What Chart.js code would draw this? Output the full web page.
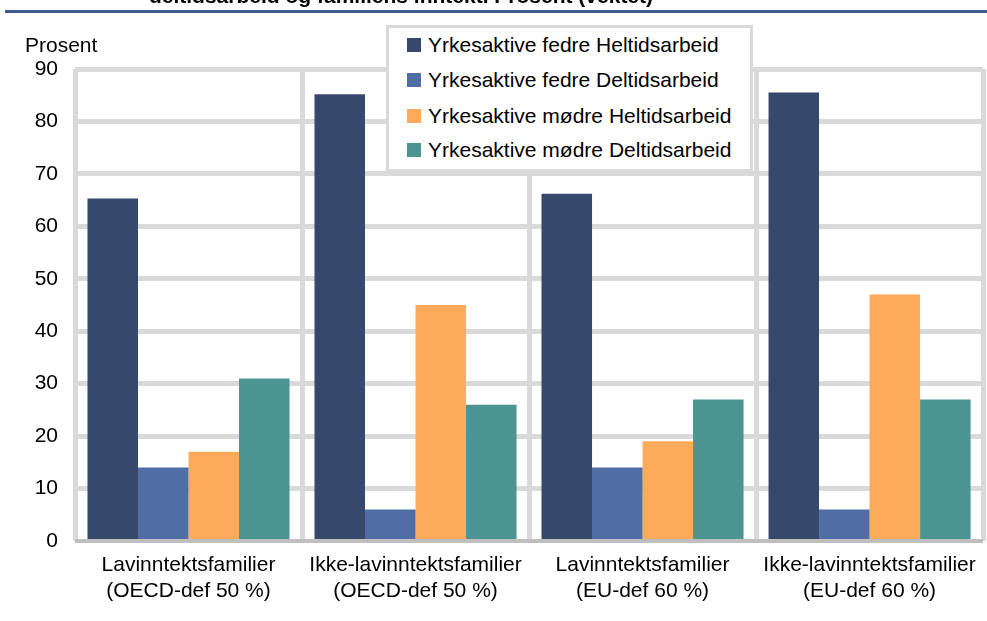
<!DOCTYPE html>
<html><head><meta charset="utf-8">
<script src="https://cdn.jsdelivr.net/npm/chart.js@4"></script>
<style>
html,body{margin:0;padding:0;background:#fff;}
#wrap{position:relative;width:987px;height:621px;overflow:hidden;font-family:"Liberation Sans",Arial,sans-serif;color:#000;}
canvas{position:absolute;left:0;top:0;}
#title{position:absolute;top:-15px;left:0;width:802px;text-align:center;font-weight:bold;font-size:21px;line-height:21px;white-space:nowrap;}
#rule{position:absolute;left:5px;top:10px;width:982px;height:3px;background:#3f5b8c;}
#ylab{position:absolute;left:25px;top:33px;font-size:21px;line-height:24px;}
#legend{position:absolute;left:386px;top:25px;width:361px;height:141px;border:3px solid #d9d9d9;background:#fff;}
.item{position:absolute;left:18px;font-size:21px;line-height:24px;height:24px;white-space:nowrap;display:flex;align-items:center;}
.sw{display:inline-block;width:14px;height:14px;margin-right:7px;}
</style>
</head><body>
<div id="wrap">
<canvas id="c" width="987" height="621"></canvas>
<div id="title">deltidsarbeid og familiens inntekt. Prosent (vektet)</div>
<div id="rule"></div>
<div id="ylab">Prosent</div>
<div id="legend"></div>
</div>
<script>
const categories = [
  ["Lavinntektsfamilier", "(OECD-def 50 %)"],
  ["Ikke-lavinntektsfamilier", "(OECD-def 50 %)"],
  ["Lavinntektsfamilier", "(EU-def 60 %)"],
  ["Ikke-lavinntektsfamilier", "(EU-def 60 %)"]
];
const seriesNames = [
  "Yrkesaktive fedre Heltidsarbeid",
  "Yrkesaktive fedre Deltidsarbeid",
  "Yrkesaktive mødre Heltidsarbeid",
  "Yrkesaktive mødre Deltidsarbeid"
];
const fedreHeltid = [65.3, 85.2, 66.2, 85.5];
const fedreDeltid = [14, 6, 14, 6];
const modreHeltid = [17, 45, 19, 47];
const modreDeltid = [31, 26, 27, 27];
const yMin = 0, yMax = 90, yStep = 10;
const colors = ["#36486c", "#506ea5", "#fdaa5a", "#4b9491"];

const values = [fedreHeltid, fedreDeltid, modreHeltid, modreDeltid];
const datasets = values.map((v, i) => ({
  label: seriesNames[i],
  data: v,
  backgroundColor: colors[i],
  borderWidth: 0,
  categoryPercentage: 0.89,
  barPercentage: 1.0
}));

const leg = document.getElementById('legend');
const tops = [5, 40, 76, 110];
datasets.forEach((d, i) => {
  const it = document.createElement('div');
  it.className = 'item';
  it.style.top = tops[i] + 'px';
  const sw = document.createElement('span');
  sw.className = 'sw';
  sw.style.background = d.backgroundColor;
  it.appendChild(sw);
  it.appendChild(document.createTextNode(d.label));
  leg.appendChild(it);
});

const font = {family: '"Liberation Sans", Arial, sans-serif', size: 21};
new Chart(document.getElementById('c'), {
  type: 'bar',
  data: {labels: categories, datasets},
  options: {
    responsive: false,
    devicePixelRatio: 1,
    animation: false,
    layout: {padding: {left: 0, right: 2, top: 69, bottom: 0}},
    plugins: {legend: {display: false}, tooltip: {enabled: false}, title: {display: false}},
    scales: {
      x: {
        grid: {offset: true, color: '#d9d9d9', lineWidth: 5, drawTicks: false},
        border: {display: false},
        ticks: {color: '#000', font: {...font, lineHeight: 1.24}, padding: 11, maxRotation: 0, minRotation: 0, autoSkip: false},
        afterFit: s => { s.height = 80; }
      },
      y: {
        min: yMin, max: yMax,
        grid: {
          color: ctx => ctx.tick && ctx.tick.value === 0 ? '#bfbfbf' : '#d9d9d9',
          lineWidth: ctx => ctx.tick && ctx.tick.value === 0 ? 4 : 5,
          drawTicks: false
        },
        border: {display: false},
        ticks: {stepSize: yStep, color: '#000', font, padding: 17},
        afterFit: s => { s.width = 75; }
      }
    }
  }
});
</script>
</body></html>
